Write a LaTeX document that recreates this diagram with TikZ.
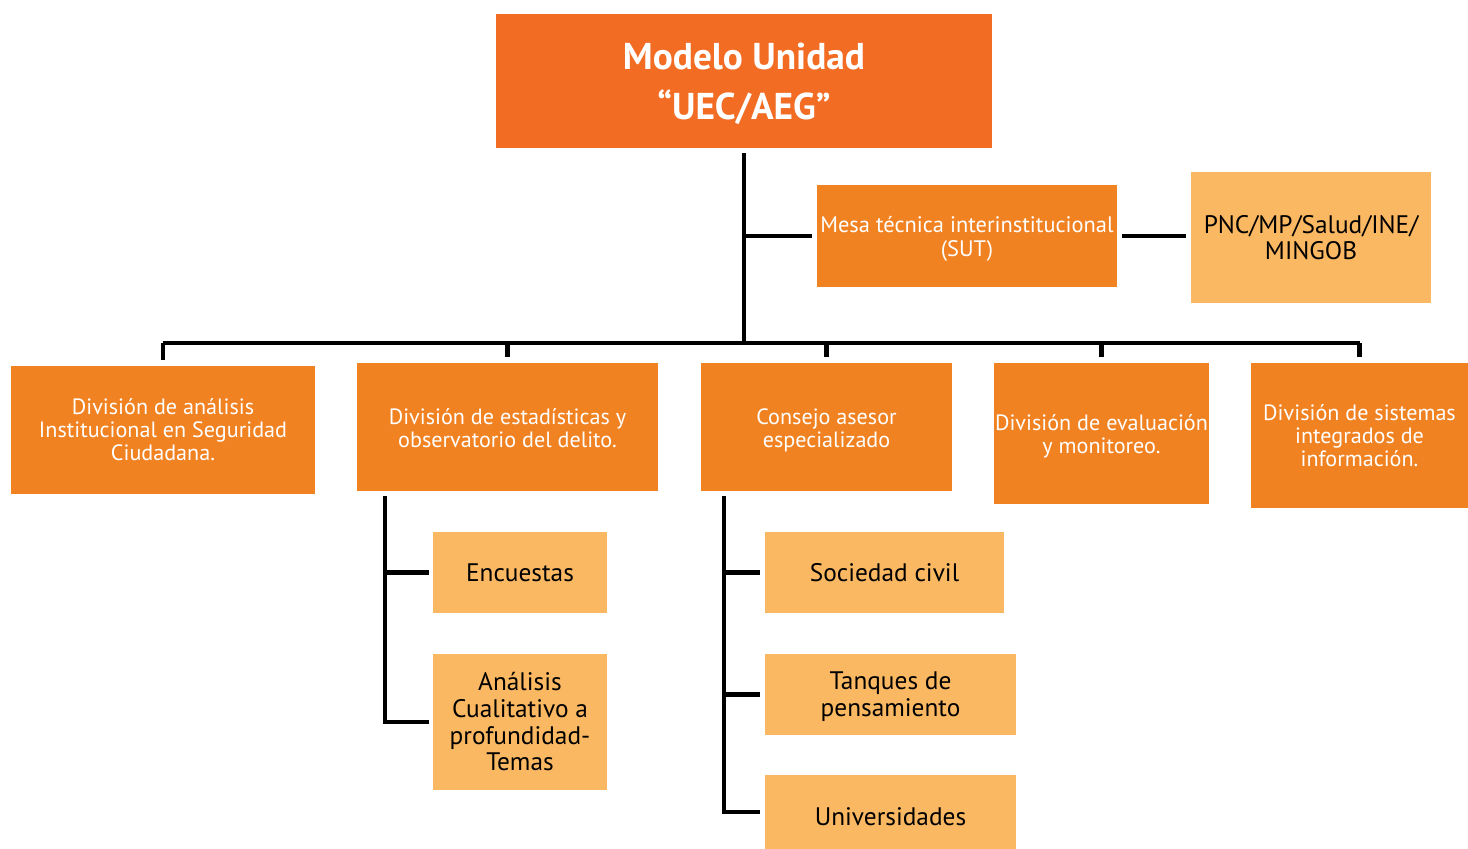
\documentclass[tikz,border=0pt]{standalone}
\usepackage{fontspec}
\setmainfont{PT Sans}
\definecolor{topc}{RGB}{242,108,36}
\definecolor{midc}{RGB}{241,130,34}
\definecolor{lightc}{RGB}{251,184,98}
% pad the top of a line so that the centred text sits lower by half the pad
\newcommand{\padtop}[2]{\raisebox{0pt}[\dimexpr\height+#1\relax]{#2}}
\begin{document}
\begin{tikzpicture}[x=0.75pt,y=-0.75pt,
  box/.style 2 args={rectangle, inner sep=0pt, minimum width=#1*0.75pt, minimum height=#2*0.75pt, align=center},
  topbox/.style={fill=topc, text=white, font=\bfseries\fontsize{28}{37.5}\selectfont},
  midbox/.style={fill=midc, text=white, font=\fontsize{16.6}{17.25}\selectfont},
  mesabox/.style={fill=midc, text=white, font=\fontsize{16.8}{18}\selectfont},
  ltbox/.style={fill=lightc, text=black, font=\fontsize{19}{20}\selectfont},
  conn/.style={line width=3.2pt, draw=black},
  trunk/.style={line width=3.7pt, draw=black}]
\useasboundingbox (0,0) rectangle (1468,849);
\node[topbox, box={496}{134}] (top) at (744,81) {\padtop{4.5pt}{Modelo Unidad}\\“UEC/AEG”};
\node[mesabox, box={300}{102}] (mesa) at (967,236) {\padtop{3.8pt}{Mesa técnica interinstitucional}\\(SUT)};
\node[ltbox, box={240}{131}] (pnc) at (1311,237.5) {PNC/MP/Salud/INE/\\MINGOB};
\node[midbox, box={304}{128}] (d1) at (163,430) {División de análisis\\Institucional en Seguridad\\Ciudadana.};
\node[midbox, box={301}{128}] (d2) at (507.5,427) {\padtop{1.5pt}{División de estadísticas y}\\observatorio del delito.};
\node[midbox, box={251}{128}] (d3) at (826.5,427) {\padtop{4.5pt}{Consejo asesor}\\especializado};
\node[midbox, box={215}{141}] (d4) at (1101.5,433.5) {\padtop{4.5pt}{División de evaluación}\\y monitoreo.};
\node[midbox, box={217}{145}] (d5) at (1359.5,435.5) {División de sistemas\\integrados de\\información.};
\node[ltbox, box={174}{81}] (enc) at (520,572.5) {Encuestas};
\node[ltbox, box={174}{136}] (ana) at (520,722) {Análisis\\Cualitativo a\\profundidad-\\Temas};
\node[ltbox, box={239}{81}] (soc) at (884.5,572.5) {Sociedad civil};
\node[ltbox, box={251}{81}] (tan) at (890.5,694.5) {\padtop{3pt}{Tanques de}\\pensamiento};
\node[ltbox, box={251}{74}] (uni) at (890.5,812) {\padtop{7.5pt}{Universidades}};
\coordinate (bus) at (744,343);
% trunk
\draw[trunk, shorten <=3.75pt] (top.south) -- (bus);
\draw[trunk, shorten >=3.75pt] (mesa.west -| bus) -- (mesa.west);
\draw[conn, shorten <=3.75pt, shorten >=3.75pt] (mesa.east) -- (mesa.east -| pnc.west);
% bus
\draw[trunk] (d1.north |- bus) -- (d5.north |- bus);
\foreach \n in {d1,d2,d3,d4,d5}
  \draw[conn, shorten >=4.5pt] (\n.north |- bus) -- (\n.north);
% subtree of d2
\coordinate (v2) at ([xshift=21pt,yshift=-3.75pt]d2.south west);
\draw[conn, shorten >=3pt] (v2) |- (ana.west);
\draw[conn, shorten >=3pt] (enc.west -| v2) -- (enc.west);
% subtree of d3
\coordinate (v3) at ([xshift=17.25pt,yshift=-3.75pt]d3.south west);
\draw[conn, shorten >=3.75pt] (v3) |- (uni.west);
\draw[conn, shorten >=3.75pt] (soc.west -| v3) -- (soc.west);
\draw[conn, shorten >=3.75pt] (tan.west -| v3) -- (tan.west);
\end{tikzpicture}
\end{document}
